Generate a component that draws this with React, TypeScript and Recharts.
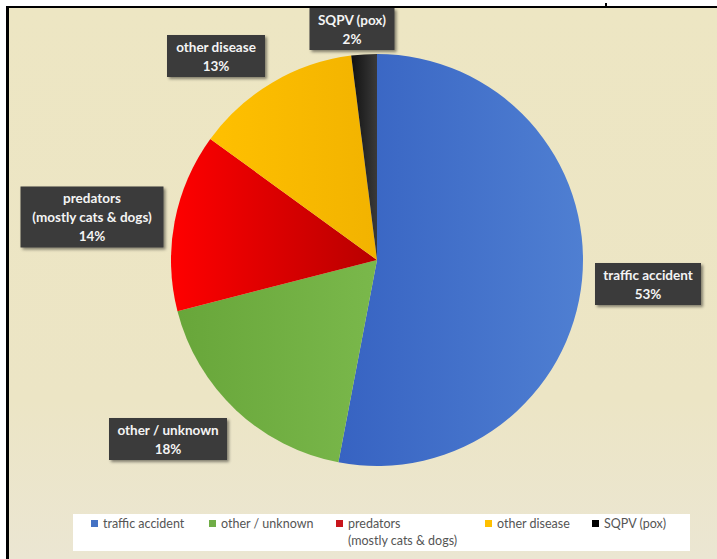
import React from "react";
import { PieChart, Pie, Cell, Legend } from "recharts";

// causes of death, share in percent
const categories = [
  "traffic accident",
  "other / unknown",
  "predators\n(mostly cats & dogs)",
  "other disease",
  "SQPV (pox)",
];
const shares = [53, 18, 14, 13, 2];

const gradientStops = [
  ["#3763c2", "#4f7fd2"],
  ["#68a63a", "#7ab84b"],
  ["#ff0000", "#b80000"],
  ["#ffc000", "#f2b300"],
  ["#111111", "#3a3a3a"],
];
const legendColors = ["#4472c4", "#70ad47", "#c8151b", "#ffc000", "#000000"];

// label box centre relative to pie centre, and box width
const labelLayout = [
  { dx: 271, dy: 24, w: 106 },
  { dx: -209, dy: 179, w: 118 },
  { dx: -285, dy: -43, w: 143 },
  { dx: -161, dy: -204, w: 98 },
  { dx: -25, dy: -231, w: 85 },
];
const legendX = [18, 136, 263, 412, 519];

const data = categories.map((name, i) => ({ name, value: shares[i] }));

const renderLabel = (props: any) => {
  const { cx, cy, index } = props;
  const lay = labelLayout[index];
  const lines = [...categories[index].split("\n"), `${shares[index]}%`];
  const h = lines.length === 3 ? 61 : 42;
  const x = cx + lay.dx;
  const y = cy + lay.dy;
  return (
    <g key={`lbl-${index}`}>
      <rect
        x={x - lay.w / 2}
        y={y - h / 2}
        width={lay.w}
        height={h}
        fill="#3b3b3a"
        filter="url(#boxShadow)"
      />
      {lines.map((t, j) => (
        <text
          key={j}
          x={x}
          y={y + (j - (lines.length - 1) / 2) * 19}
          textAnchor="middle"
          dominantBaseline="central"
          fill="#f4f4f4"
          fontFamily="Lato, 'Open Sans', sans-serif"
          fontWeight={700}
          fontSize={13.5}
        >
          {t}
        </text>
      ))}
    </g>
  );
};

const renderLegend = () => (
  <div
    style={{
      position: "relative",
      width: 617,
      height: 37,
      background: "#ffffff",
      fontFamily: "Lato, 'Open Sans', sans-serif",
      fontSize: 12.5,
      color: "#555555",
    }}
  >
    {categories.map((c, i) => (
      <div key={c} style={{ position: "absolute", left: legendX[i], top: 1, display: "flex", alignItems: "flex-start" }}>
        <span
          style={{
            display: "inline-block",
            width: 7,
            height: 7,
            background: legendColors[i],
            marginTop: 5,
            marginRight: 5,
          }}
        />
        <span style={{ whiteSpace: "pre", lineHeight: "17px" }}>{c}</span>
      </div>
    ))}
  </div>
);

export default function App() {
  return (
    <div
      style={{
        position: "fixed",
        left: 0,
        top: 0,
        width: 717,
        height: 559,
        background: "#ffffff",
        overflow: "hidden",
      }}
    >
      <div
        style={{
          position: "absolute",
          left: 6,
          top: 6,
          width: 720,
          height: 560,
          borderTop: "2px solid #000",
          borderLeft: "3px solid #000",
          background: "linear-gradient(180deg, #ede6c3 0%, #ece5c5 70%, #ebe6d3 100%)",
        }}
      />
      <div style={{ position: "absolute", left: 605, top: 3, width: 2, height: 4, background: "#000" }} />
      <div style={{ position: "absolute", left: 0, top: 0 }}>
        <PieChart width={717} height={559}>
          <defs>
            {gradientStops.map((s, i) => (
              <linearGradient key={i} id={`grad${i}`} x1="0" y1="0" x2="1" y2="0">
                <stop offset="0%" stopColor={s[0]} />
                <stop offset="100%" stopColor={s[1]} />
              </linearGradient>
            ))}
            <filter id="boxShadow" x="-10%" y="-10%" width="130%" height="140%">
              <feDropShadow dx="2" dy="2" stdDeviation="1.5" floodColor="#000" floodOpacity="0.45" />
            </filter>
          </defs>
          <Pie
            data={data}
            dataKey="value"
            nameKey="name"
            cx={372}
            cy={255}
            outerRadius={206}
            startAngle={90}
            endAngle={-270}
            stroke="none"
            labelLine={false}
            label={renderLabel}
            isAnimationActive={false}
          >
            {data.map((d, i) => (
              <Cell key={d.name} fill={`url(#grad${i})`} />
            ))}
          </Pie>
          <Legend
            content={renderLegend}
            wrapperStyle={{ position: "absolute", left: 73, top: 514, width: 617, height: 37, bottom: "auto" }}
          />
        </PieChart>
      </div>
    </div>
  );
}
